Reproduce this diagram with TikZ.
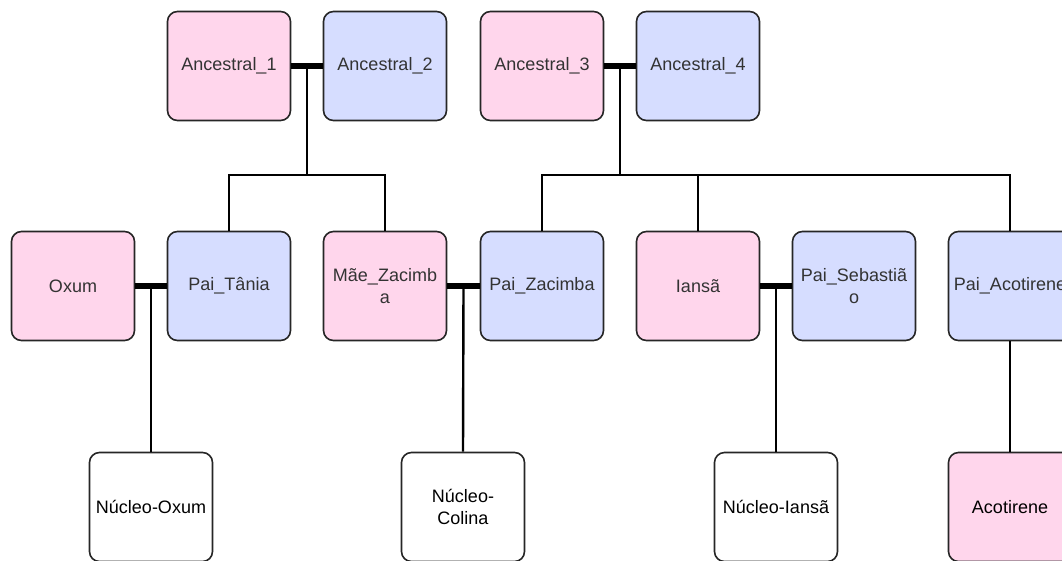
\documentclass[tikz,border=0pt]{standalone}
\usepackage{fontspec}
\setmainfont{Liberation Sans}
\begin{document}
\begin{tikzpicture}[x=1pt,y=-1pt,
  person/.style={draw=black!85, line width=1.6pt, rounded corners=10pt,
    minimum width=123pt, minimum height=109pt, inner sep=2pt, align=center,
    font=\fontsize{18}{22}\selectfont, text=black!80},
  fem/.style={person, fill=pinkfill},
  masc/.style={person, fill=bluefill},
  group/.style={person, fill=white, text=black},
  couple/.style={line width=5.5pt},
  descent/.style={line width=2.4pt}]
\definecolor{pinkfill}{HTML}{FFD6EC}
\definecolor{bluefill}{HTML}{D6DDFF}
\useasboundingbox (0,0) rectangle (1062,560);
\clip (0,0) rectangle (1062,560);

% first generation
\node[fem]  (a1) at (229,66) {Ancestral\_1};
\node[masc] (a2) at (385,66) {Ancestral\_2};
\node[fem]  (a3) at (542,66) {Ancestral\_3};
\node[masc] (a4) at (698,66) {Ancestral\_4};

% second generation
\node[fem]  (ox) at (73,286)   {Oxum};
\node[masc] (pt) at (229,286)  {Pai\_Tânia};
\node[fem]  (mz) at (385,286)  {Mãe\_Zacimb\\a};
\node[masc] (pz) at (542,286)  {Pai\_Zacimba};
\node[fem]  (ia) at (698,286)  {Iansã};
\node[masc] (ps) at (854,286)  {Pai\_Sebastiã\\o};
\node[masc] (pa) at (1010,286) {Pai\_Acotirene};

% third generation
\node[group] (no) at (151,507)  {Núcleo-Oxum};
\node[group] (nc) at (463,507)  {Núcleo-\\Colina};
\node[group] (ni) at (776,507)  {Núcleo-Iansã};
\node[fem, text=black] (ac) at (1010,507) {Acotirene};

% couples
\draw[couple] (a1.east) -- (a2.west) coordinate[pos=0.5] (m1);
\draw[couple] (a3.east) -- (a4.west) coordinate[pos=0.5] (m2);
\draw[couple] (ox.east) -- (pt.west) coordinate[pos=0.5] (m3);
\draw[couple] (mz.east) -- (pz.west) coordinate[pos=0.5] (m4);
\draw[couple] (ia.east) -- (ps.west) coordinate[pos=0.5] (m5);

% descent lines
\coordinate (j1) at (m1 |- 0,175);
\coordinate (j2) at (m2 |- 0,175);
\draw[descent] (m1) -- (j1);
\draw[descent] (pt.north) |- (j1);
\draw[descent] (mz.north) |- (j1);
\draw[descent] (m2) -- (j2);
\draw[descent] (pz.north) |- (j2);
\draw[descent] (pa.north) |- (j2);
\draw[descent] (ia.north) -- (ia.north |- j2);
\draw[descent] (m3) -- (no.north);
\draw[descent] (m4) -- (nc.north);
\draw[descent] (m5) -- (ni.north);
\draw[descent] (pa.south) -- (ac.north);
\end{tikzpicture}
\end{document}
